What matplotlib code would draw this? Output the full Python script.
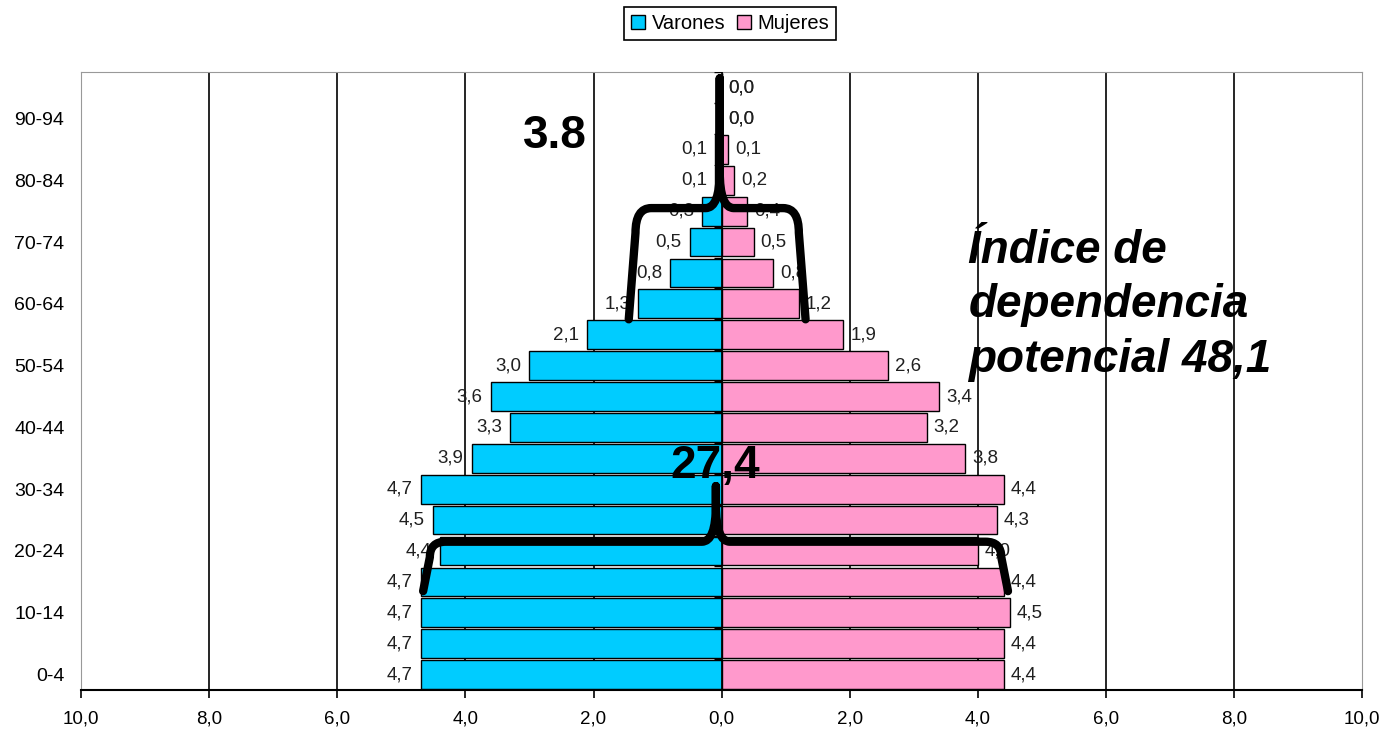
import matplotlib.pyplot as plt
from matplotlib.path import Path
from matplotlib.patches import PathPatch, Patch

plt.rcParams['font.family'] = ['Liberation Sans', 'DejaVu Sans']

grupos = ['0-4', '5-9', '10-14', '15-19', '20-24', '25-29', '30-34', '35-39',
          '40-44', '45-49', '50-54', '55-59', '60-64', '65-69', '70-74',
          '75-79', '80-84', '85-89', '90-94', '95+']
varones = [4.7, 4.7, 4.7, 4.7, 4.4, 4.5, 4.7, 3.9, 3.3, 3.6,
           3.0, 2.1, 1.3, 0.8, 0.5, 0.3, 0.1, 0.1, 0.0, 0.0]
mujeres = [4.4, 4.4, 4.5, 4.4, 4.0, 4.3, 4.4, 3.8, 3.2, 3.4,
           2.6, 1.9, 1.2, 0.8, 0.5, 0.4, 0.2, 0.1, 0.0, 0.0]
ticks_x = [-10, -8, -6, -4, -2, 0, 2, 4, 6, 8, 10]

azul = '#00CCFF'
rosa = '#FF99CC'

fig = plt.figure(figsize=(13.83, 7.29), dpi=100)
ax = fig.add_axes([0.0586, 0.0535, 0.9264, 0.8475])

y = list(range(len(grupos)))

# lineas verticales de la cuadricula
for t in ticks_x[1:-1]:
    if t != 0:
        ax.axvline(t, color='black', lw=1.2, zorder=0)

ax.barh(y, [-v for v in varones], height=0.93, color=azul, edgecolor='black', lw=1, zorder=2)
ax.barh(y, mujeres, height=0.93, color=rosa, edgecolor='black', lw=1, zorder=2)

# eje central con marcas entre grupos
ax.axvline(0, color='black', lw=1.2, zorder=3)
ax.plot([0] * len(grupos), [i + 0.5 for i in y], ls='none', marker=0,
        markersize=6, color='black', zorder=3)

def fmt(v):
    return f'{v:.1f}'.replace('.', ',')

col_txt = '#202020'
for i in y:
    v, m = varones[i], mujeres[i]
    if v > 0:
        ax.annotate(fmt(v), (-v, i), xytext=(-6, 0), textcoords='offset points',
                    ha='right', va='center', fontsize=13.5, color=col_txt, zorder=4)
    else:
        ax.annotate(fmt(v), (m, i), xytext=(5, 0), textcoords='offset points',
                    ha='left', va='center', fontsize=13.5, color=col_txt, zorder=4)
    ax.annotate(fmt(m), (m, i), xytext=(5, 0), textcoords='offset points',
                ha='left', va='center', fontsize=13.5, color=col_txt, zorder=4)

ax.set_xlim(-10, 10)
ax.set_ylim(-0.5, 19.5)
ax.set_xticks(ticks_x)
ax.set_xticklabels([fmt(abs(t)) for t in ticks_x], fontsize=13.5)
ax.set_yticks(y[::2])
ax.set_yticklabels(grupos[::2], fontsize=14)
ax.tick_params(axis='y', length=0, pad=12)
ax.tick_params(axis='x', length=6, width=1.2, direction='out', pad=9)
for s in ['left', 'top', 'right']:
    ax.spines[s].set_color('#999999')
ax.spines['bottom'].set_color('black')
ax.spines['bottom'].set_linewidth(1.5)


def llave(x0, x1, xm, yh, ybot, ytop, dx, dy):
    verts = [(x0, ybot), (x0 + dx * 0.3, yh - dy), (x0 + dx * 0.3, yh), (x0 + dx, yh),
             (xm - 0.22, yh), (xm, yh), (xm, yh + 1.2), (xm, ytop),
             (xm, yh + 1.2), (xm, yh), (xm + 0.22, yh),
             (x1 - dx, yh), (x1 - dx * 0.3, yh), (x1 - dx * 0.3, yh - dy), (x1, ybot)]
    codes = [Path.MOVETO, Path.LINETO, Path.CURVE3, Path.CURVE3,
             Path.LINETO, Path.CURVE3, Path.CURVE3, Path.LINETO,
             Path.LINETO, Path.CURVE3, Path.CURVE3,
             Path.LINETO, Path.CURVE3, Path.CURVE3, Path.LINETO]
    ax.add_patch(PathPatch(Path(verts, codes), fill=False, lw=6, color='black',
                           capstyle='round', joinstyle='round', zorder=6))


# llave de mayores de 65 y de menores de 15
llave(-1.45, 1.31, -0.03, 15.1, 11.5, 19.3, 0.35, 0.8)
llave(-4.66, 4.47, -0.09, 4.3, 2.7, 6.1, 0.35, 0.5)

ax.text(-2.6, 17.43, '3.8', fontsize=33, fontweight='bold', ha='center', va='center', zorder=7)
ax.text(-0.1, 6.75, '27,4', fontsize=33, fontweight='bold', ha='center', va='center', zorder=7)
ax.text(3.85, 11.95, 'Índice de\ndependencia\npotencial 48,1', fontsize=33,
        fontweight='bold', fontstyle='italic', ha='left', va='center', linespacing=1.3, zorder=7)

handles = [Patch(facecolor=azul, edgecolor='black', label='Varones'),
           Patch(facecolor=rosa, edgecolor='black', label='Mujeres')]
leg = fig.legend(handles=handles, loc='center', bbox_to_anchor=(0.528, 0.968), ncol=2,
                 fontsize=14.5, handlelength=0.7, handleheight=0.7, handletextpad=0.3,
                 columnspacing=0.6, borderpad=0.35, fancybox=False, framealpha=1)
leg.get_frame().set_edgecolor('black')
leg.get_frame().set_linewidth(1.2)

fig.savefig('out.png', dpi=100)
